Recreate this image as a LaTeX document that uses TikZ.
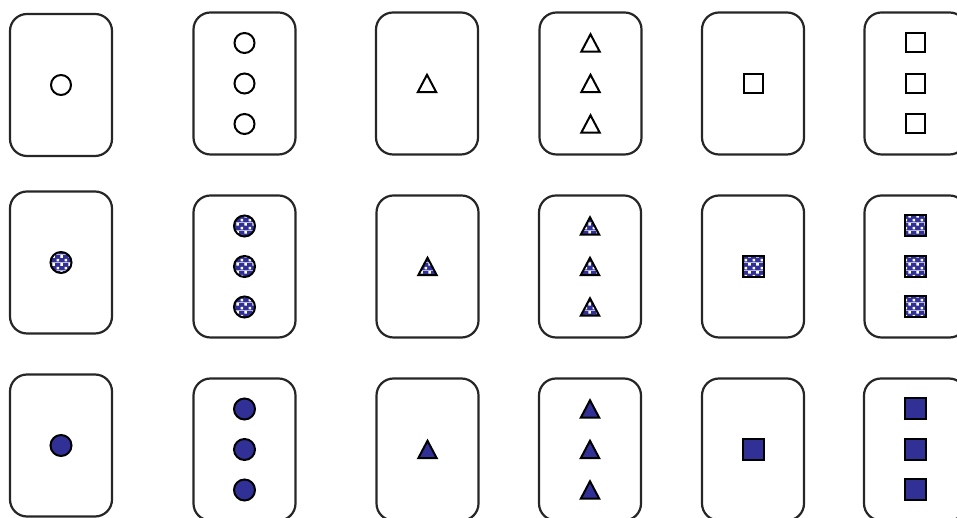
\documentclass[tikz,border=0pt]{standalone}
\usetikzlibrary{patterns}
\definecolor{shapeblue}{RGB}{48,48,150}
\pgfdeclarepatterninherentlycolored{bluecheck}{\pgfpointorigin}{\pgfqpoint{8pt}{8pt}}{\pgfqpoint{8pt}{8pt}}{%
  \pgfsetfillcolor{shapeblue}%
  \pgfpathrectangle{\pgfpointorigin}{\pgfqpoint{8pt}{8pt}}%
  \pgfusepath{fill}%
  \pgfsetfillcolor{white}%
  \pgfpathrectangle{\pgfqpoint{0.6pt}{0.6pt}}{\pgfqpoint{2.8pt}{2.8pt}}%
  \pgfpathrectangle{\pgfqpoint{4.6pt}{4.6pt}}{\pgfqpoint{2.8pt}{2.8pt}}%
  \pgfusepath{fill}}

\begin{document}
\begin{tikzpicture}[x=1pt, y=1pt, card/.style={draw=black!85, line width=2.2pt, rounded corners=17pt, minimum width=102pt, minimum height=142pt, inner sep=0pt}, ring/.style={circle, draw=black, line width=2pt, minimum size=20pt, inner sep=0pt}, box/.style={rectangle, draw=black, line width=2pt, minimum size=19pt, inner sep=0pt}, tri/.style={draw=black, line width=2pt, line join=miter}, open/.style={fill=white}, checked/.style={pattern=bluecheck, minimum size=21pt}, solid/.style={fill=shapeblue, minimum size=21pt}]
\clip (0,0) rectangle (957,518);
\node[card] (openC1) at (61,433) {};
\node[card] (openC3) at (244.5,434.5) {};
\node[card] (openT1) at (427,434.5) {};
\node[card] (openT3) at (590.5,434.5) {};
\node[card] (openS1) at (753,434.5) {};
\node[card] (openS3) at (915.5,434.5) {};
\node[card] (checkC1) at (61,255.5) {};
\node[card] (checkC3) at (244.5,251.5) {};
\node[card] (checkT1) at (427.5,251.5) {};
\node[card] (checkT3) at (590,251.5) {};
\node[card] (checkS1) at (753,251.5) {};
\node[card] (checkS3) at (915.5,251.5) {};
\node[card] (solidC1) at (61,72.5) {};
\node[card] (solidC3) at (244.5,68.5) {};
\node[card] (solidT1) at (427.5,68.5) {};
\node[card] (solidT3) at (590,68.5) {};
\node[card] (solidS1) at (753,68.5) {};
\node[card] (solidS3) at (915,68.5) {};

\node[ring, open] (openC1a) at (openC1.center) {};
\node[ring, open] (openC3a) at ([yshift=40.5pt]openC3.center) {};
\node[ring, open] (openC3b) at (openC3.center) {};
\node[ring, open] (openC3c) at ([yshift=-40.5pt]openC3.center) {};
\draw[tri, open] (openT1.center) +(-9.25,-8.75) -- +(9.25,-8.75) -- +(0,8.75) -- cycle;
\draw[tri, open] ([yshift=40.5pt]openT3.center) +(-9.25,-8.75) -- +(9.25,-8.75) -- +(0,8.75) -- cycle;
\draw[tri, open] (openT3.center) +(-9.25,-8.75) -- +(9.25,-8.75) -- +(0,8.75) -- cycle;
\draw[tri, open] ([yshift=-40.5pt]openT3.center) +(-9.25,-8.75) -- +(9.25,-8.75) -- +(0,8.75) -- cycle;
\node[box, open] (openS1a) at (openS1.center) {};
\node[box, open] (openS3a) at ([yshift=40.5pt]openS3.center) {};
\node[box, open] (openS3b) at (openS3.center) {};
\node[box, open] (openS3c) at ([yshift=-40.5pt]openS3.center) {};

\node[ring, checked] (checkC1a) at (checkC1.center) {};
\node[ring, checked] (checkC3a) at ([yshift=40.5pt]checkC3.center) {};
\node[ring, checked] (checkC3b) at (checkC3.center) {};
\node[ring, checked] (checkC3c) at ([yshift=-40.5pt]checkC3.center) {};
\draw[tri, checked] (checkT1.center) +(-9.25,-8.75) -- +(9.25,-8.75) -- +(0,8.75) -- cycle;
\draw[tri, checked] ([yshift=40.5pt]checkT3.center) +(-9.25,-8.75) -- +(9.25,-8.75) -- +(0,8.75) -- cycle;
\draw[tri, checked] (checkT3.center) +(-9.25,-8.75) -- +(9.25,-8.75) -- +(0,8.75) -- cycle;
\draw[tri, checked] ([yshift=-40.5pt]checkT3.center) +(-9.25,-8.75) -- +(9.25,-8.75) -- +(0,8.75) -- cycle;
\node[box, checked] (checkS1a) at (checkS1.center) {};
\node[box, checked] (checkS3a) at ([yshift=40.5pt]checkS3.center) {};
\node[box, checked] (checkS3b) at (checkS3.center) {};
\node[box, checked] (checkS3c) at ([yshift=-40.5pt]checkS3.center) {};

\node[ring, solid] (solidC1a) at (solidC1.center) {};
\node[ring, solid] (solidC3a) at ([yshift=40.5pt]solidC3.center) {};
\node[ring, solid] (solidC3b) at (solidC3.center) {};
\node[ring, solid] (solidC3c) at ([yshift=-40.5pt]solidC3.center) {};
\draw[tri, solid] (solidT1.center) +(-9.25,-8.75) -- +(9.25,-8.75) -- +(0,8.75) -- cycle;
\draw[tri, solid] ([yshift=40.5pt]solidT3.center) +(-9.25,-8.75) -- +(9.25,-8.75) -- +(0,8.75) -- cycle;
\draw[tri, solid] (solidT3.center) +(-9.25,-8.75) -- +(9.25,-8.75) -- +(0,8.75) -- cycle;
\draw[tri, solid] ([yshift=-40.5pt]solidT3.center) +(-9.25,-8.75) -- +(9.25,-8.75) -- +(0,8.75) -- cycle;
\node[box, solid] (solidS1a) at (solidS1.center) {};
\node[box, solid] (solidS3a) at ([yshift=40.5pt]solidS3.center) {};
\node[box, solid] (solidS3b) at (solidS3.center) {};
\node[box, solid] (solidS3c) at ([yshift=-40.5pt]solidS3.center) {};
\end{tikzpicture}
\end{document}
